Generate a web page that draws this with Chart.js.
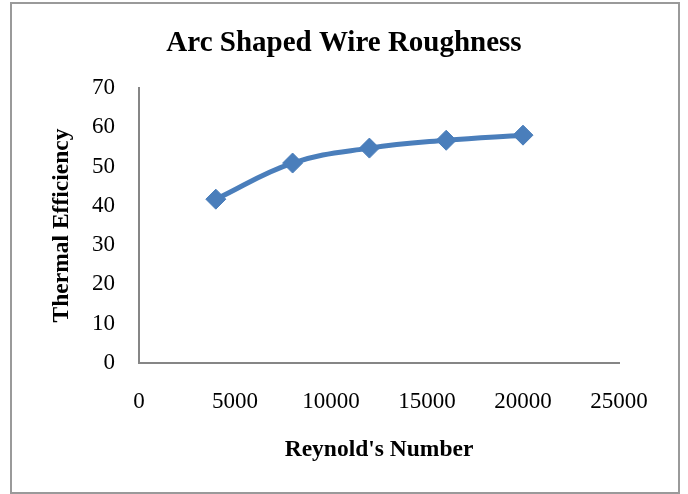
<!DOCTYPE html>
<html>
<head>
<meta charset="utf-8">
<script src="https://cdn.jsdelivr.net/npm/chart.js@4/dist/chart.umd.min.js"></script>
<style>
  html, body { margin: 0; padding: 0; background: #fff; }
  #wrap { position: relative; width: 688px; height: 494px; }
</style>
</head>
<body>
<div id="wrap"><canvas id="c" width="688" height="494"></canvas></div>
<script>
// Reynolds number vs. thermal efficiency for the arc shaped wire roughness
const reynolds = [4000, 8000, 12000, 16000, 20000];
const efficiency = [41.7, 50.9, 54.7, 56.7, 58.0];
const xTicks = [0, 5000, 10000, 15000, 20000, 25000];
const yTicks = [0, 10, 20, 30, 40, 50, 60, 70];

const points = reynolds.map((x, i) => ({ x: x, y: efficiency[i] }));
const SERIF = "'Liberation Serif', 'Times New Roman', serif";
const BLUE = '#4A7EBB';
const AXIS = '#868686';

// Outer frame around the whole chart
const frame = {
  id: 'frame',
  beforeDraw(chart) {
    const ctx = chart.ctx;
    ctx.save();
    ctx.fillStyle = '#fff';
    ctx.fillRect(0, 0, chart.width, chart.height);
    ctx.strokeStyle = '#9A9A9A';
    ctx.lineWidth = 2;
    ctx.strokeRect(11, 3, 668, 490);
    ctx.restore();
  }
};

new Chart(document.getElementById('c'), {
  type: 'scatter',
  data: {
    datasets: [{
      data: points,
      showLine: true,
      borderColor: BLUE,
      backgroundColor: BLUE,
      borderWidth: 5,
      tension: 0.4,
      pointStyle: 'rectRot',
      pointRadius: 10,
      pointHoverRadius: 10,
      pointBorderWidth: 1,
      pointBorderColor: BLUE,
      pointBackgroundColor: BLUE
    }]
  },
  options: {
    responsive: false,
    animation: false,
    devicePixelRatio: 1,
    layout: { padding: 0 },
    plugins: {
      legend: { display: false },
      tooltip: { enabled: false },
      title: {
        display: true,
        text: 'Arc Shaped Wire Roughness',
        color: '#000',
        font: { family: SERIF, size: 29, weight: 'bold', lineHeight: 1.2 },
        padding: { top: 26, bottom: 27.2 }
      }
    },
    scales: {
      x: {
        type: 'linear',
        min: 0,
        max: 25000,
        afterBuildTicks(scale) { scale.ticks = xTicks.map(v => ({ value: v })); },
        afterFit(scale) { scale.height = 131; },
        grid: { display: false, drawTicks: false },
        border: { display: true, color: AXIS, width: 2 },
        ticks: {
          color: '#000',
          padding: 25,
          maxRotation: 0,
          font: { family: SERIF, size: 23 },
          callback: v => String(v)
        },
        title: {
          display: true,
          text: "Reynold's Number",
          color: '#000',
          font: { family: SERIF, size: 23.5, weight: 'bold', lineHeight: 1.2 },
          padding: { top: 0, bottom: 30 }
        }
      },
      y: {
        type: 'linear',
        min: 0,
        max: 70,
        afterBuildTicks(scale) { scale.ticks = yTicks.map(v => ({ value: v })); },
        afterFit(scale) { scale.width = 139; },
        grid: { display: false, drawTicks: false },
        border: { display: true, color: AXIS, width: 2 },
        ticks: {
          color: '#000',
          padding: 24,
          font: { family: SERIF, size: 23 },
          callback: v => String(v)
        },
        title: {
          display: true,
          text: 'Thermal Efficiency',
          color: '#000',
          font: { family: SERIF, size: 23.5, weight: 'bold', lineHeight: 1.2 },
          padding: { top: 48, bottom: 0 }
        }
      },
      // empty margin on the right of the plot area
      yRight: {
        type: 'linear',
        position: 'right',
        min: 0,
        max: 70,
        afterFit(scale) { scale.width = 69; },
        grid: { display: false, drawTicks: false },
        border: { display: false },
        ticks: { display: false }
      }
    }
  },
  plugins: [frame]
});
</script>
</body>
</html>
